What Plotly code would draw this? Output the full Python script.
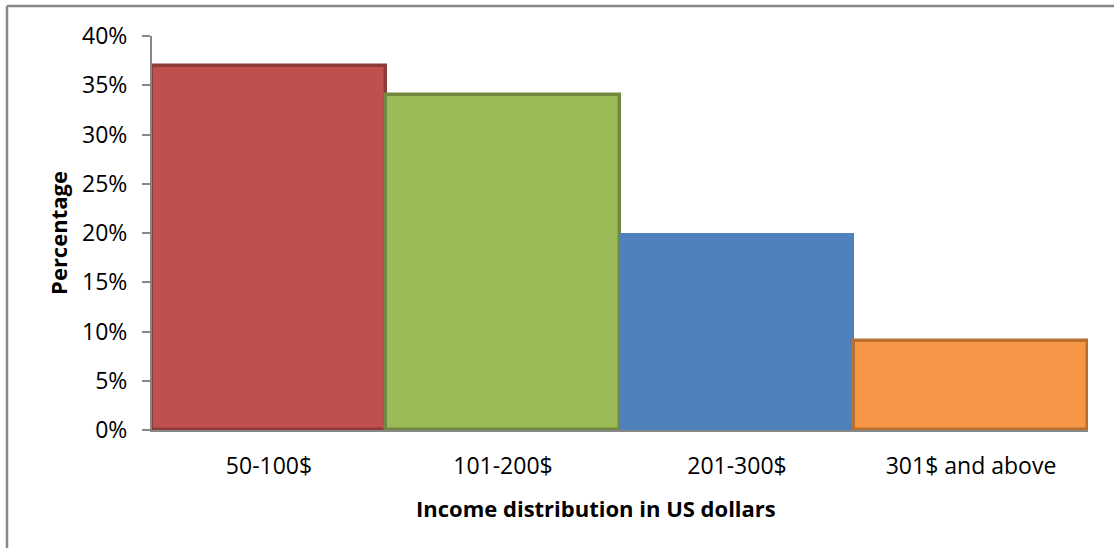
import plotly.graph_objects as go

categories = ["50-100$", "101-200$", "201-300$", "301$ and above"]
percentages = [0.37, 0.34, 0.20, 0.09]
fill_colors = ["#C0504D", "#9BBB59", "#4F81BD", "#F79646"]
edge_colors = ["#8E3B39", "#71893F", "#4F81BD", "#B8702F"]
edge_widths = [3.5, 3.5, 0, 3.5]

y_ticks = [0, 0.05, 0.10, 0.15, 0.20, 0.25, 0.30, 0.35, 0.40]

W, H = 1114, 548
L, R, T, B = 152, 26, 36, 118
pw, ph = W - L - R, H - T - B

fig = go.Figure(
    go.Bar(
        x=categories,
        y=percentages,
        width=1,
        marker=dict(color=fill_colors, line=dict(color=edge_colors, width=edge_widths)),
        hoverinfo="x+y",
    )
)

FONT = "Open Sans"
fig.update_layout(
    width=W,
    height=H,
    margin=dict(l=L, r=R, t=T, b=B, pad=0),
    paper_bgcolor="white",
    plot_bgcolor="white",
    showlegend=False,
    bargap=0,
    font=dict(family=FONT, color="#000000", size=23),
    xaxis=dict(
        showline=True,
        linecolor="#878787",
        linewidth=2,
        ticks="",
        tickfont=dict(family=FONT, size=23, color="#000"),
        ticklabelstandoff=14,
        showgrid=False,
        zeroline=False,
    ),
    yaxis=dict(
        range=[0, 0.4],
        tickvals=y_ticks,
        tickformat=".0%",
        showline=True,
        linecolor="#878787",
        linewidth=2,
        ticks="outside",
        ticklen=8,
        tickwidth=1.5,
        tickcolor="#878787",
        tickfont=dict(family=FONT, size=23, color="#000"),
        ticklabelstandoff=10,
        title=dict(
            text="<b>Percentage</b>",
            font=dict(family=FONT, size=22, color="#000"),
            standoff=8,
        ),
        showgrid=False,
        zeroline=False,
    ),
    annotations=[
        dict(
            text="<b>Income distribution in US dollars</b>",
            xref="paper", yref="paper",
            x=(596 - L) / pw, y=-(508 - (H - B)) / ph,
            xanchor="center", yanchor="middle",
            showarrow=False,
            font=dict(family=FONT, size=22, color="#000"),
        )
    ],
    shapes=[
        dict(
            type="line", xref="paper", yref="paper",
            x0=(7 - L) / pw, x1=(7 - L) / pw,
            y0=1 + (T - 6) / ph, y1=-(B + 10) / ph,
            line=dict(color="#888888", width=2.5),
        ),
        dict(
            type="line", xref="paper", yref="paper",
            x0=(7 - L) / pw, x1=(W + 10 - L) / pw,
            y0=1 + (T - 6) / ph, y1=1 + (T - 6) / ph,
            line=dict(color="#888888", width=2.5),
        ),
    ],
)

fig.write_html("out.html")
